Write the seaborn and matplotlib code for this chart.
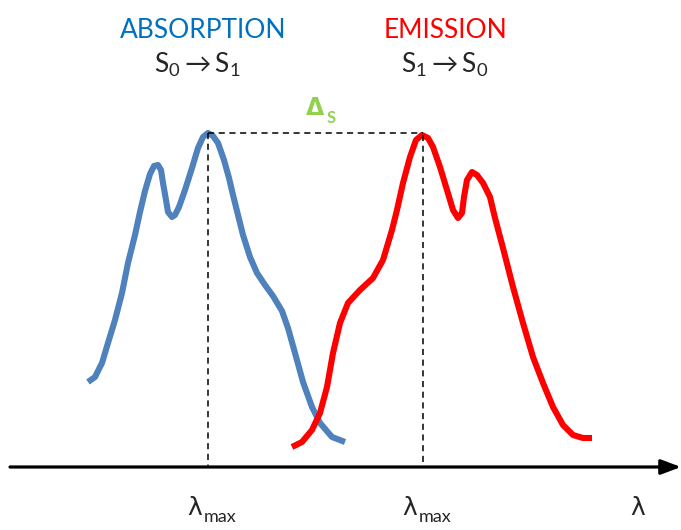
import matplotlib
matplotlib.use("Agg")
import matplotlib.pyplot as plt
import seaborn as sns
import pandas as pd

# curve points (pixel-like units, y grows downward)
abs_x = [88, 95, 102, 108, 115, 122, 128, 135, 140, 145, 150, 154, 158, 161,
         163, 166, 168, 172, 175, 179, 185, 192, 198, 203, 208, 213, 218, 224, 229,
         233, 238, 243, 250, 257, 265, 273, 282, 288, 295, 303, 312, 320, 332, 345]
abs_y = [382, 377, 363, 343, 320, 293, 263, 235, 212, 191, 174, 166, 165, 170,
         183, 200, 212, 217, 215, 207, 190, 168, 148, 137, 133, 136, 143, 160, 178,
         195, 215, 235, 257, 273, 285, 296, 311, 328, 353, 382, 407, 423, 437, 442]

em_x = [292, 302, 312, 320, 327, 333, 340, 348, 360, 373, 383, 392, 397, 403, 410,
        416, 422, 428, 433, 440, 447, 453, 458, 462, 464, 467, 472, 477, 483, 490,
        495, 503, 513, 523, 533, 543, 553, 563, 573, 583, 592]
em_y = [447, 442, 430, 413, 387, 353, 323, 303, 290, 278, 260, 230, 210, 183, 157,
        140, 135, 138, 147, 167, 190, 210, 218, 213, 197, 180, 172, 175, 183, 197,
        218, 248, 287, 323, 357, 383, 407, 425, 435, 438, 438]

peak_x = [208, 423]
peak_y = [133, 135]
axis_y = 467

BLUE = "#4F81BD"
RED = "#FF0000"
GREEN = "#92D050"

sns.set_style("white")
plt.rcParams['font.family'] = ['Lato', 'DejaVu Sans']
plt.rcParams['mathtext.fontset'] = 'custom'
plt.rcParams['mathtext.rm'] = 'Lato'
plt.rcParams['mathtext.it'] = 'Lato:italic'
plt.rcParams['mathtext.fallback'] = 'stixsans'

fig = plt.figure(figsize=(6.81, 5.30), dpi=100)
ax = fig.add_axes([0, 0, 1, 1])

df_abs = pd.DataFrame({"x": abs_x, "y": abs_y})
df_em = pd.DataFrame({"x": em_x, "y": em_y})
sns.lineplot(data=df_abs, x="x", y="y", sort=False, estimator=None, color=BLUE,
             lw=4.4, ax=ax, solid_capstyle="butt", solid_joinstyle="round")
sns.lineplot(data=df_em, x="x", y="y", sort=False, estimator=None, color=RED,
             lw=4.4, ax=ax, solid_capstyle="butt", solid_joinstyle="round")

# dashed guides
for px, py in zip(peak_x, peak_y):
    ax.plot([px, px], [py, axis_y], ls=(0, (4, 3)), color="black", lw=1.1)
ax.plot([peak_x[0], peak_x[1]], [min(peak_y), min(peak_y)], ls=(0, (4, 3)),
        color="black", lw=1.1)

# wavelength axis with arrow
ax.annotate("", xy=(681, axis_y), xytext=(10, axis_y),
            arrowprops=dict(arrowstyle="-|>,head_length=1.2,head_width=0.45",
                            color="black", lw=2.3, shrinkA=0, shrinkB=0))

# labels
ax.text(203, 30, "ABSORPTION", color="#0070C0", fontsize=19, ha="center", va="center")
ax.text(445, 30, "EMISSION", color=RED, fontsize=19, ha="center", va="center")
ax.text(197, 65, r"$\mathregular{S_0 \rightarrow S_1}$", fontsize=19, ha="center", va="center")
ax.text(445, 65, r"$\mathregular{S_1 \rightarrow S_0}$", fontsize=19, ha="center", va="center")

ax.text(315, 108, "Δ", color=GREEN, fontsize=17, ha="center", va="center",
        family=['DejaVu Sans'], fontweight="bold")
ax.text(327, 118, "S", color=GREEN, fontsize=12, ha="left", va="center", fontweight="bold")

for lx in peak_x:
    ax.text(lx - 13, 508, "λ", fontsize=18, ha="center", va="center", family=['DejaVu Sans'])
    ax.text(lx - 4, 517, "max", fontsize=13, ha="left", va="center")
ax.text(638, 508, "λ", fontsize=18, ha="center", va="center", family=['DejaVu Sans'])

ax.set_xlim(0, 681)
ax.set_ylim(530, 0)
ax.axis("off")

fig.savefig("out.png", dpi=100)
